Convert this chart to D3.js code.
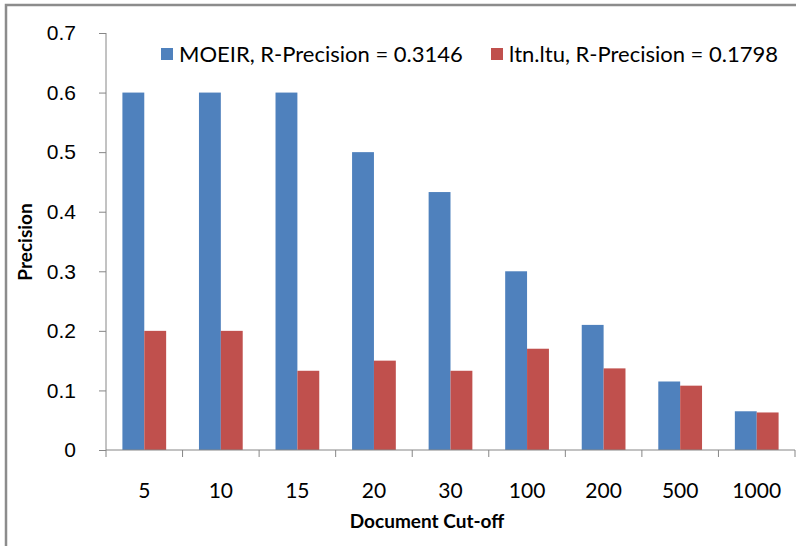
<!DOCTYPE html>
<html>
<head>
<meta charset="utf-8">
<script src="https://cdn.jsdelivr.net/npm/d3@7"></script>
<style>
  body { margin: 0; background: #fff; }
  svg { display: block; font-family: Lato, "Open Sans", sans-serif; }
  .axis path, .axis line { stroke: #868686; }
  .axis text { fill: #000; font-size: 21px; }
</style>
</head>
<body>
<svg id="chart"></svg>
<script>
// document cut-off levels and precision values
const cutoffs = ["5", "10", "15", "20", "30", "100", "200", "500", "1000"];
const moeir = [0.6, 0.6, 0.6, 0.5, 0.433, 0.3, 0.21, 0.115, 0.065];
const ltnltu = [0.2, 0.2, 0.133, 0.15, 0.133, 0.17, 0.137, 0.108, 0.063];
const seriesNames = ["MOEIR, R-Precision = 0.3146", "ltn.ltu, R-Precision = 0.1798"];
const colors = ["#4F81BD", "#C0504D"];
const yTicks = [0, 0.1, 0.2, 0.3, 0.4, 0.5, 0.6, 0.7];

const W = 796, H = 546;
const margin = { top: 33, right: 1, bottom: 96, left: 106 };
const width = W - margin.left - margin.right;
const height = H - margin.top - margin.bottom;

const svg = d3.select("#chart").attr("width", W).attr("height", H);

// outer frame (only top/left visible in the original crop)
svg.append("path")
    .attr("d", `M6,${H} V5 H${W}`)
    .attr("fill", "none")
    .attr("stroke", "#8c8c8c")
    .attr("stroke-width", 2.5);

const g = svg.append("g").attr("transform", `translate(${margin.left},${margin.top})`);

const x = d3.scaleBand().domain(cutoffs).range([0, width]).paddingInner(0).paddingOuter(0);
const y = d3.scaleLinear().domain([0, 0.7]).range([height, 0]);

// two bars per group, excel-like gap width 150%
const barW = x.bandwidth() / 3.5;
const gap = (x.bandwidth() - 2 * barW) / 2;

const data = cutoffs.map((c, i) => ({ c, vals: [moeir[i], ltnltu[i]] }));

const groups = g.selectAll(".grp")
    .data(data)
    .join("g")
    .attr("class", "grp")
    .attr("transform", d => `translate(${x(d.c)},0)`);

groups.selectAll("rect")
    .data(d => d.vals)
    .join("rect")
    .attr("x", (d, i) => gap + i * barW)
    .attr("y", d => y(d))
    .attr("width", barW)
    .attr("height", d => y(0) - y(d))
    .attr("fill", (d, i) => colors[i]);

// y axis
const yAxisG = g.append("g").attr("class", "axis")
    .call(d3.axisLeft(y).tickValues(yTicks).tickSize(7).tickPadding(23)
        .tickFormat(d => d === 0 ? "0" : d3.format(".1f")(d)));
yAxisG.select(".domain").attr("d", `M0,0V${height}`);

// x axis: ticks at category boundaries
const xAxisG = g.append("g").attr("class", "axis")
    .attr("transform", `translate(0,${height})`);
xAxisG.append("line").attr("x1", 0).attr("x2", width).attr("y1", 0).attr("y2", 0);
xAxisG.selectAll(".bt")
    .data(d3.range(cutoffs.length + 1))
    .join("line")
    .attr("class", "bt")
    .attr("x1", i => i * x.step())
    .attr("x2", i => i * x.step())
    .attr("y1", 0)
    .attr("y2", 7);
xAxisG.selectAll(".lbl")
    .data(cutoffs)
    .join("text")
    .attr("class", "lbl")
    .attr("x", d => x(d) + x.bandwidth() / 2)
    .attr("y", 48)
    .attr("text-anchor", "middle")
    .text(d => d);

// axis titles
svg.append("text")
    .attr("x", 427)
    .attr("y", 528)
    .attr("text-anchor", "middle")
    .style("font-weight", "bold")
    .style("font-size", "19px")
    .text("Document Cut-off");

svg.append("text")
    .attr("transform", "translate(32,242) rotate(-90)")
    .attr("text-anchor", "middle")
    .style("font-weight", "bold")
    .style("font-size", "19px")
    .text("Precision");

// legend
const legendX = [161, 491];
const legend = svg.selectAll(".legend")
    .data(seriesNames)
    .join("g")
    .attr("class", "legend")
    .attr("transform", (d, i) => `translate(${legendX[i]},48)`);
legend.append("rect")
    .attr("width", 12).attr("height", 12)
    .attr("fill", (d, i) => colors[i]);
legend.append("text")
    .attr("x", 18)
    .attr("y", 14)
    .style("font-size", "22px")
    .text(d => d);
</script>
</body>
</html>
